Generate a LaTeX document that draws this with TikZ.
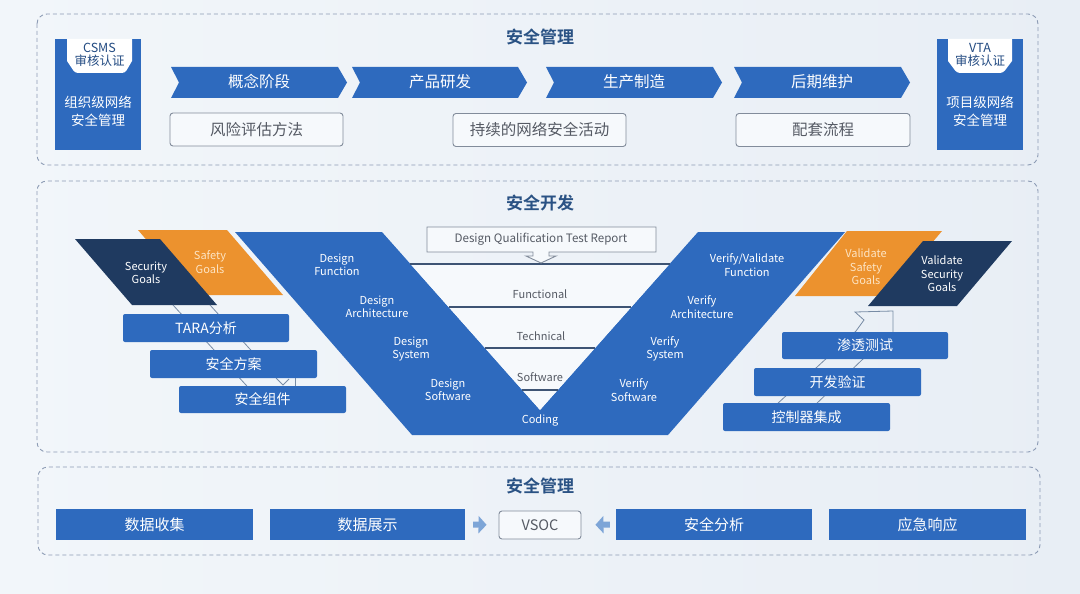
\documentclass[tikz,border=0pt]{standalone}
\usepackage{fontspec}
\setmainfont{Noto Sans CJK SC}[BoldFont={Noto Sans CJK SC Bold}]
\usetikzlibrary{arrows.meta}
\definecolor{bgA}{RGB}{242,246,250}
\definecolor{bgB}{RGB}{232,238,245}
\definecolor{vblue}{RGB}{46,106,190}
\definecolor{navy}{RGB}{31,58,96}
\definecolor{orng}{RGB}{236,146,46}
\definecolor{dashc}{RGB}{140,155,180}
\definecolor{ttl}{RGB}{42,82,132}
\definecolor{lvl}{RGB}{62,84,116}
\definecolor{txtg}{RGB}{85,90,100}
\definecolor{boxln}{RGB}{130,140,155}
\definecolor{thinl}{RGB}{120,140,165}
\definecolor{arrc}{RGB}{125,165,215}
\definecolor{lorng}{RGB}{253,228,195}
\definecolor{tabtxt}{RGB}{35,75,130}
\definecolor{lightfill}{RGB}{246,249,252}
\begin{document}
\begin{tikzpicture}[x=1pt,y=-1pt,
  panel/.style={draw=dashc, line width=0.9pt, dash pattern=on 4pt off 3pt, rounded corners=10pt},
  ttlnode/.style={text=ttl, font=\fontsize{17}{20}\selectfont\bfseries},
  bbox/.style={fill=vblue, rounded corners=2pt, inner sep=0pt, text=white, font=\fontsize{14}{16}\selectfont},
  obox/.style={draw=boxln, fill=lightfill, line width=0.9pt, rounded corners=3pt, inner sep=0pt, text=txtg, font=\fontsize{15.5}{18}\selectfont},
  chevtxt/.style={text=white, font=\fontsize{15.5}{18}\selectfont},
  vlab/.style={text=white, align=center, font=\fontsize{11}{13.5}\selectfont},
  lvlab/.style={text=txtg, font=\fontsize{11}{13}\selectfont},
  tabt/.style={text=tabtxt, align=center, font=\fontsize{12.5}{14}\selectfont},
  sidet/.style={text=white, align=center, font=\fontsize{13.5}{18}\selectfont},
  thin/.style={draw=thinl, line width=0.8pt},
  lvline/.style={draw=lvl, line width=2pt},
  barrow/.style={arrc, line width=6pt, -{Triangle[length=8pt,width=17pt]}}
]
% background
\shade[left color=bgA, right color=bgB] (0,0) rectangle (1080,594);
\useasboundingbox (0,0) rectangle (1080,594);

% panels
\draw[panel] (37,14) rectangle (1038,165);
\draw[panel] (37,181) rectangle (1038,452);
\draw[panel] (38,467) rectangle (1040,555);

\node[ttlnode] (t1) at (540,37) {安全管理};
\node[ttlnode] (t2) at (540,203) {安全开发};
\node[ttlnode] (t3) at (540,486) {安全管理};

% ===== top panel =====
% CSMS box
\fill[vblue] (55,39) rectangle (141,150);
\fill[white] (67,39) -- (67,61) [rounded corners=3pt] -- (75,73) -- (125,73) [sharp corners] -- (132,61) -- (132,39) -- cycle;
\node[tabt] (csms) at (99.5,55) {CSMS\\[-1pt]审核认证};
\node[sidet] (org) at (98,111) {组织级网络\\安全管理};
% VTA box
\fill[vblue] (937,39) rectangle (1023,150);
\fill[white] (948,39) -- (948,61) [rounded corners=3pt] -- (957,73) -- (1003,73) [sharp corners] -- (1012,61) -- (1012,39) -- cycle;
\node[tabt] (vta) at (980,55) {VTA\\[-1pt]审核认证};
\node[sidet] (prj) at (980,111) {项目级网络\\安全管理};

% chevrons
\foreach \xa/\xb in {171/347, 352/527, 546/722, 734/910}{
  \fill[vblue] (\xa,67) -- (\xb-9,67) -- (\xb,82.5) -- (\xb-9,98) -- (\xa,98) -- (\xa+8,82.5) -- cycle;
}
\node[chevtxt] (c1) at (259,82) {概念阶段};
\node[chevtxt] (c2) at (440,82) {产品研发};
\node[chevtxt] (c3) at (634,82) {生产制造};
\node[chevtxt] (c4) at (822,82) {后期维护};

\node[obox, minimum width=173pt, minimum height=33pt] (risk) at (256.5,129.5) {风险评估方法};
\node[obox, minimum width=173pt, minimum height=33pt] (cont) at (539.5,130) {持续的网络安全活动};
\node[obox, minimum width=174pt, minimum height=33pt] (supp) at (823,130) {配套流程};

% ===== middle panel =====
% V shape
\fill[vblue] (235,232) -- (382,232) -- (540,410) -- (698,232) -- (845,232) -- (668,435) -- (412,435) -- cycle;
\fill[lightfill] (410.4,264) -- (669.6,264) -- (540,410) -- cycle;
\draw[lvline] (410.4,264) -- (669.6,264);
\draw[lvline] (448.6,307) -- (631.4,307);
\draw[lvline] (485,348) -- (595,348);
\draw[lvline] (522.2,390) -- (557.8,390);

% DQTR box with arrow
\draw[boxln, line width=0.9pt, fill=lightfill] (427,227) -- (656,227) -- (656,252) -- (549,252) -- (549,256) -- (556,256) -- (541,263) -- (526,256) -- (533,256) -- (533,252) -- (427,252) -- cycle;
\node[lvlab, font=\fontsize{11.6}{13}\selectfont] (dqtr) at (541,239.5) {Design Qualification Test Report};

\node[lvlab] (lf) at (540,294) {Functional};
\node[lvlab] (lt) at (541,336) {Technical};
\node[lvlab] (ls) at (540,377) {Software};

\node[vlab] (df) at (337,265) {Design\\Function};
\node[vlab] (da) at (377,307) {Design\\Architecture};
\node[vlab] (ds) at (411,349) {Design\\System};
\node[vlab] (dsw) at (448,390) {Design\\Software};
\node[vlab] (cod) at (540,420) {Coding};
\node[vlab] (vf) at (747,265) {Verify/Validate\\Function};
\node[vlab] (va) at (702,307) {Verify\\Architecture};
\node[vlab] (vs) at (665,349) {Verify\\System};
\node[vlab] (vsw) at (634,390) {Verify\\Software};

% left goals
\fill[orng] (138,230) -- (227,230) -- (283,295) -- (194,295) -- cycle;
\fill[navy] (75,239) -- (160,239) -- (217,305) -- (132,305) -- cycle;
\node[vlab, text=lorng] (safg) at (210,262) {Safety\\Goals};
\node[vlab] (secg) at (146,273) {Security\\Goals};

% right goals
\fill[orng] (847,231) -- (942,231) -- (887,296) -- (795,296) -- cycle;
\fill[navy] (923,241) -- (1012,241) -- (957,306) -- (868,306) -- cycle;
\node[vlab, text=lorng] (vsafg) at (866,267) {Validate\\Safety\\Goals};
\node[vlab] (vsecg) at (942,274) {Validate\\Security\\Goals};

% left band (behind boxes)
\draw[thin] (173,305) -- (256,396);
\draw[thin] (210,305) -- (277,379) -- (283,385) -- (289,379);
\draw[thin] (295,376) -- (295,388);
% right band (behind boxes)
\draw[thin] (749,430) -- (856,331) -- (864,320) -- (855,312) -- (893,311) -- (893,336);
\draw[thin] (789,430) -- (889,334);

% left boxes
\node[bbox, minimum width=166pt, minimum height=28pt] (tara) at (206,328) {TARA分析};
\node[bbox, minimum width=167pt, minimum height=28pt] (plan) at (233.5,364) {安全方案};
\node[bbox, minimum width=167pt, minimum height=27pt] (comp) at (262.5,399.5) {安全组件};
% right boxes
\node[bbox, minimum width=166pt, minimum height=27pt] (pent) at (865,345.5) {渗透测试};
\node[bbox, minimum width=167pt, minimum height=28pt] (devv) at (837.5,382) {开发验证};
\node[bbox, minimum width=167pt, minimum height=28pt] (ctrl) at (806.5,417) {控制器集成};

% ===== bottom panel =====
\tikzset{bot/.style={bbox, rounded corners=0pt, minimum height=31pt, font=\fontsize{15}{17}\selectfont}}
\node[bot, minimum width=197pt] (coll) at (154.5,524.5) {数据收集};
\node[bot, minimum width=195pt] (show) at (367.5,524.5) {数据展示};
\node[obox, font=\fontsize{14.5}{16}\selectfont, minimum width=82pt, minimum height=28pt] (vsoc) at (540,525) {VSOC};
\node[bot, minimum width=196pt] (anly) at (714,524.5) {安全分析};
\node[bot, minimum width=197pt] (resp) at (927.5,524.5) {应急响应};

\draw[barrow, shorten <=8pt, shorten >=12pt] (show.east) -- (vsoc.west);
\draw[barrow, shorten <=6pt, shorten >=14pt] (anly.west) -- (vsoc.east);
\end{tikzpicture}
\end{document}
